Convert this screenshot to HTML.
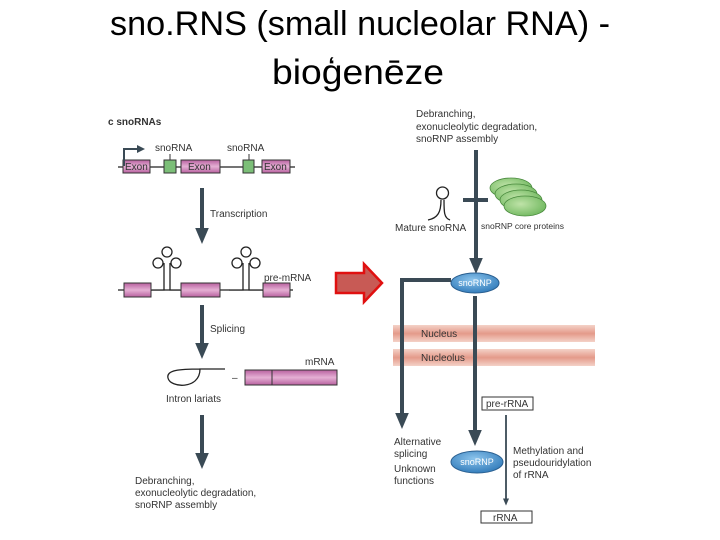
<!DOCTYPE html>
<html><head><meta charset="utf-8"><style>
body{margin:0;background:#fff;}
svg{display:block}
text{font-family:"Liberation Sans",sans-serif;fill:#333;}
.s{font-size:10px}
</style></head><body>
<svg width="720" height="540" viewBox="0 0 720 540">
<defs>
<linearGradient id="ex" x1="0" y1="0" x2="0" y2="1"><stop offset="0" stop-color="#b8609f"/><stop offset=".5" stop-color="#e5b0d4"/><stop offset="1" stop-color="#b8609f"/></linearGradient>
<linearGradient id="band" x1="0" y1="0" x2="0" y2="1"><stop offset="0" stop-color="#f4d2c8"/><stop offset=".5" stop-color="#e49a8a"/><stop offset="1" stop-color="#f4d2c8"/></linearGradient>
<radialGradient id="blue" cx=".45" cy=".35" r=".7"><stop offset="0" stop-color="#8cc4ec"/><stop offset="1" stop-color="#2d78b8"/></radialGradient>
<radialGradient id="grn" cx=".4" cy=".4" r=".7"><stop offset="0" stop-color="#bfe3a8"/><stop offset="1" stop-color="#6bb55a"/></radialGradient>
<marker id="ah" markerWidth="4" markerHeight="4" refX="2" refY="2" orient="auto" markerUnits="strokeWidth"><path d="M0,0.3 L4,2 L0,3.7z" fill="#3a4a55"/></marker>
</defs>
<text x="360" y="35" font-size="34" text-anchor="middle" textLength="500" lengthAdjust="spacingAndGlyphs" style="fill:#000">sno.RNS (small nucleolar RNA) -</text>
<text x="358" y="84" font-size="35" text-anchor="middle" textLength="172" lengthAdjust="spacingAndGlyphs" style="fill:#000">bioģenēze</text>

<text x="108" y="125" font-size="10" font-weight="bold">c  snoRNAs</text>
<line x1="118" y1="167" x2="295" y2="167" stroke="#222" stroke-width="1.2"/>
<g stroke="#333" stroke-width="1" fill="url(#ex)">
<rect x="123" y="160" width="27" height="13"/><rect x="181" y="160" width="39" height="13"/><rect x="262" y="160" width="28" height="13"/>
</g>
<g fill="#7cbf78" stroke="#333" stroke-width="1"><rect x="164" y="160" width="12" height="13"/><rect x="243" y="160" width="11" height="13"/></g>
<g class="s" font-size="10"><text x="125" y="170" class="s">Exon</text><text x="188" y="170" class="s">Exon</text><text x="264" y="170" class="s">Exon</text>
<text x="155" y="151" class="s">snoRNA</text><text x="227" y="151" class="s">snoRNA</text></g>
<line x1="170" y1="154" x2="170" y2="160" stroke="#333"/><line x1="249" y1="154" x2="249" y2="160" stroke="#333"/>
<path d="M124,166 V149 H138" fill="none" stroke="#3a4a55" stroke-width="2"/><path d="M137,145 L145,149 L137,153z" fill="#3a4a55"/>
<line x1="202" y1="188" x2="202" y2="236" stroke="#3a4a55" stroke-width="4" marker-end="url(#ah)"/>
<text x="210" y="217" class="s">Transcription</text>

<line x1="118" y1="290" x2="293" y2="290" stroke="#222" stroke-width="1.2"/>
<g stroke="#333" stroke-width="1" fill="url(#ex)"><rect x="124" y="283" width="27" height="14"/><rect x="181" y="283" width="39" height="14"/><rect x="263" y="283" width="27" height="14"/></g>
<g fill="#fff" stroke="#222" stroke-width="1.3">
<path d="M151,290 H164 V263 M181,290 H170 V263"/>
<circle cx="167" cy="252" r="5"/><circle cx="158" cy="263" r="5"/><circle cx="176" cy="263" r="5"/>
<path d="M229,290 H243 V263 M263,290 H249 V263"/>
<circle cx="246" cy="252" r="5"/><circle cx="237" cy="263" r="5"/><circle cx="255" cy="263" r="5"/>
</g>
<text x="264" y="281" class="s">pre-mRNA</text>
<line x1="202" y1="305" x2="202" y2="351" stroke="#3a4a55" stroke-width="4" marker-end="url(#ah)"/>
<text x="210" y="332" class="s">Splicing</text>
<path d="M225,369 H200 C200,390 170,388 168,378 C166,370 180,369 200,369" fill="none" stroke="#222" stroke-width="1.3"/>
<text x="232" y="381" class="s">–</text>
<rect x="245" y="370" width="92" height="15" fill="url(#ex)" stroke="#333"/><line x1="272" y1="370" x2="272" y2="385" stroke="#333"/>
<text x="305" y="365" class="s">mRNA</text>
<text x="166" y="402" class="s">Intron lariats</text>
<line x1="202" y1="415" x2="202" y2="461" stroke="#3a4a55" stroke-width="4" marker-end="url(#ah)"/>
<text class="s"><tspan x="135" y="484">Debranching,</tspan><tspan x="135" y="496">exonucleolytic degradation,</tspan><tspan x="135" y="508">snoRNP assembly</tspan></text>

<path d="M336,273 H364 V264 L382,283 L364,302 V293 H336z" fill="#c85a55" stroke="#e01010" stroke-width="2.5"/>

<text class="s"><tspan x="416" y="117">Debranching,</tspan><tspan x="416" y="130">exonucleolytic degradation,</tspan><tspan x="416" y="142">snoRNP assembly</tspan></text>
<line x1="476" y1="150" x2="476" y2="266" stroke="#3a4a55" stroke-width="4" marker-end="url(#ah)"/>
<line x1="463" y1="200" x2="488" y2="200" stroke="#3a4a55" stroke-width="4"/>
<path d="M428,220 C438,218 441,212 441,200 M450,220 C444,218 444,212 444,200" fill="none" stroke="#222" stroke-width="1.3"/>
<circle cx="442.5" cy="193" r="6" fill="none" stroke="#222" stroke-width="1.3"/>
<g fill="url(#grn)" stroke="#4a8a3e" stroke-width="0.8">
<ellipse cx="511" cy="188" rx="21" ry="10"/><ellipse cx="516" cy="194" rx="21" ry="10"/><ellipse cx="521" cy="200" rx="21" ry="10"/><ellipse cx="525" cy="206" rx="21" ry="10"/>
</g>
<text x="395" y="231" class="s">Mature snoRNA</text>
<text x="481" y="229" font-size="8.5">snoRNP core proteins</text>
<ellipse cx="475" cy="283" rx="24" ry="10" fill="url(#blue)" stroke="#2a5f90"/>
<text x="475" y="286" font-size="9" text-anchor="middle" style="fill:#fff">snoRNP</text>
<rect x="393" y="325" width="202" height="17" fill="url(#band)"/>
<rect x="393" y="349" width="202" height="17" fill="url(#band)"/>
<text x="421" y="337" class="s">Nucleus</text><text x="421" y="361" class="s">Nucleolus</text>
<path d="M451,280 H402 V421" fill="none" stroke="#3a4a55" stroke-width="4" marker-end="url(#ah)"/>
<line x1="475" y1="296" x2="475" y2="438" stroke="#3a4a55" stroke-width="4" marker-end="url(#ah)"/>
<rect x="482" y="397" width="51" height="13" fill="#fff" stroke="#333"/><text x="486" y="407" class="s">pre-rRNA</text>
<line x1="506" y1="415" x2="506" y2="502" stroke="#3a4a55" stroke-width="1.8" marker-end="url(#ah)"/>
<rect x="481" y="511" width="51" height="12" fill="#fff" stroke="#333"/><text x="493" y="521" class="s">rRNA</text>
<ellipse cx="477" cy="462" rx="26" ry="11" fill="url(#blue)" stroke="#2a5f90"/>
<text x="477" y="465" font-size="9" text-anchor="middle" style="fill:#fff">snoRNP</text>
<text class="s"><tspan x="394" y="445">Alternative</tspan><tspan x="394" y="457">splicing</tspan><tspan x="394" y="472">Unknown</tspan><tspan x="394" y="484">functions</tspan></text>
<text class="s"><tspan x="513" y="454">Methylation and</tspan><tspan x="513" y="466">pseudouridylation</tspan><tspan x="513" y="478">of rRNA</tspan></text>
</svg>
</body></html>
